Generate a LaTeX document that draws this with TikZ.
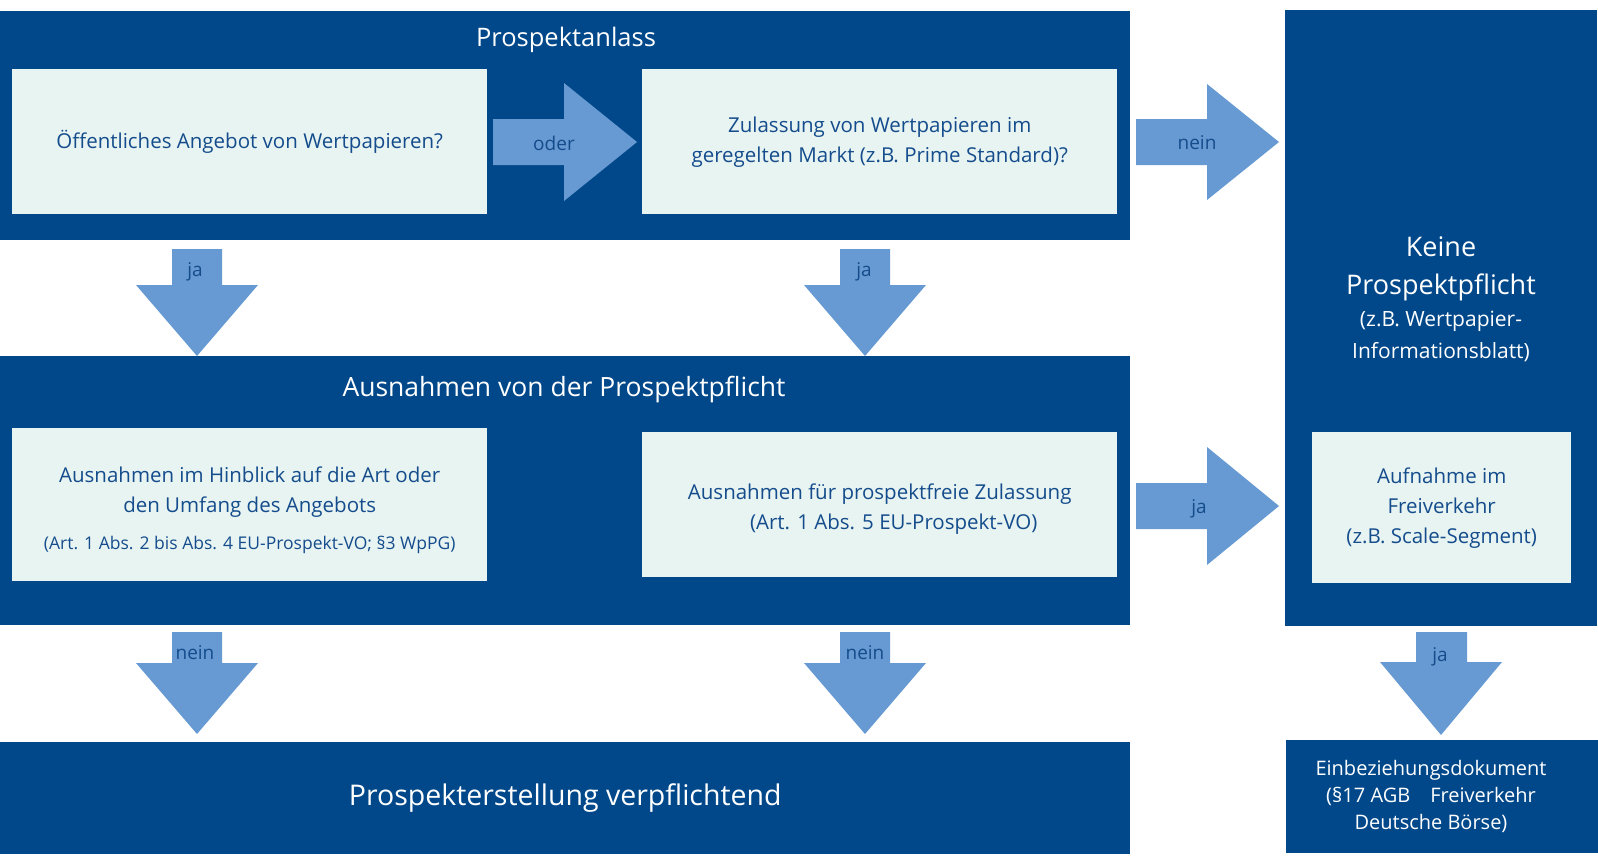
\documentclass[tikz,border=0pt]{standalone}
\usepackage{fontspec}
\setmainfont{Open Sans}
\definecolor{panelblue}{RGB}{0,72,138}
\definecolor{boxfill}{RGB}{232,244,242}
\definecolor{arrowblue}{RGB}{103,154,210}
\definecolor{textblue}{RGB}{20,76,140}

\begin{document}
\begin{tikzpicture}[x=1pt,y=-1pt,
    panel/.style={fill=panelblue,inner sep=0pt,anchor=north west,text=white,align=center},
    lightbox/.style={fill=boxfill,inner sep=0pt,anchor=north west,text=textblue,align=center,font=\fontsize{20.5}{30}\selectfont},
    boxtext/.style={text=textblue,align=center,font=\fontsize{20.5}{30}\selectfont},
    paneltitle/.style={text=white,font=\fontsize{25.5}{30}\selectfont},
    arrowfill/.style={fill=arrowblue},
    arrowlabel/.style={text=textblue,font=\fontsize{19}{23}\selectfont}]
\useasboundingbox (0,0) rectangle (1598,862);

\node[panel,minimum width=1130,minimum height=229] (anlass) at (0,11) {};
\node[panel,minimum width=1130,minimum height=269] (ausnahmen) at (0,356) {};
\node[panel,minimum width=1130,minimum height=112,font=\fontsize{28.5}{34}\selectfont] (pflicht) at (0,742) {Prospekterstellung verpflichtend};
\node[panel,minimum width=312,minimum height=616] (keine) at (1285,10) {};
\node[panel,minimum width=312,minimum height=113] (einbez) at (1286,740) {};

\node[paneltitle] (anlasstitle) at (566,40) {Prospektanlass};
\node[paneltitle,font=\fontsize{26.5}{31}\selectfont] (ausnahmentitle) at (564,390) {Ausnahmen von der Prospektpflicht};

\node[lightbox,minimum width=475,minimum height=145] (angebot) at (12,69) {Öffentliches Angebot von Wertpapieren?};
\node[lightbox,minimum width=475,minimum height=145] (zulassung) at (642,69) {Zulassung von Wertpapieren im\\geregelten Markt (z.B. Prime Standard)?};
\node[lightbox,minimum width=475,minimum height=153] (hinblick) at (12,428) {};
\node[lightbox,minimum width=475,minimum height=145] (prospektfrei) at (642,432) {};
\node[lightbox,minimum width=259,minimum height=151] (aufnahme) at (1312,432) {Aufnahme im\\Freiverkehr\\(z.B. Scale-Segment)};

\node[boxtext] (hinblicktext) at ([yshift=-6pt]hinblick.center) {Ausnahmen im Hinblick auf die Art oder\\den Umfang des Angebots\\[7pt]{\fontsize{17.5}{20}\selectfont(Art. 1 Abs. 2 bis Abs. 4 EU-Prospekt-VO; §3 WpPG)}};
\node[boxtext] (prospektfreitext) at ([yshift=-4pt]prospektfrei.center) {Ausnahmen für prospektfreie Zulassung\\\hspace*{28pt}(Art. 1 Abs. 5 EU-Prospekt-VO)};

\node[text=white,align=center,font=\fontsize{21}{32}\selectfont] (keinetext) at (1441,299) {{\fontsize{27}{38}\selectfont Keine}\\[6pt]{\fontsize{27}{38}\selectfont Prospektpflicht}\\(z.B. Wertpapier-\\Informationsblatt)};
\node[text=white,align=center,font=\fontsize{20}{27}\selectfont] (einbeztext) at (1431,796) {Einbeziehungsdokument\\(§17 AGB\hspace{20pt}Freiverkehr\\Deutsche Börse)};

\fill[arrowfill] (493,119) -- (564,119) -- (564,83) -- (637,142) -- (564,201) -- (564,165) -- (493,165) -- cycle;
\fill[arrowfill] (1136,119) -- (1207,119) -- (1207,84) -- (1279,142) -- (1207,200) -- (1207,165) -- (1136,165) -- cycle;
\fill[arrowfill] (1136,483) -- (1207,483) -- (1207,447) -- (1279,506) -- (1207,565) -- (1207,529) -- (1136,529) -- cycle;
\fill[arrowfill] (172,249) -- (222,249) -- (222,285) -- (258,285) -- (197,356) -- (136,285) -- (172,285) -- cycle;
\fill[arrowfill] (840,249) -- (890,249) -- (890,285) -- (926,285) -- (865,356) -- (804,285) -- (840,285) -- cycle;
\fill[arrowfill] (172,632) -- (222,632) -- (222,663) -- (258,663) -- (197,734) -- (136,663) -- (172,663) -- cycle;
\fill[arrowfill] (840,632) -- (890,632) -- (890,663) -- (926,663) -- (865,734) -- (804,663) -- (840,663) -- cycle;
\fill[arrowfill] (1416,632) -- (1467,632) -- (1467,662) -- (1502,662) -- (1441,735) -- (1380,662) -- (1416,662) -- cycle;

\node[arrowlabel] (oder) at (554,143) {oder};
\node[arrowlabel] (neinright) at (1197,143) {nein};
\node[arrowlabel] (jaright) at (1199,509) {ja};
\node[arrowlabel] (jaleft) at (195,272) {ja};
\node[arrowlabel] (jamid) at (864,272) {ja};
\node[arrowlabel] (neinleft) at (195,653) {nein};
\node[arrowlabel] (neinmid) at (865,653) {nein};
\node[arrowlabel] (jalow) at (1440,657) {ja};
\end{tikzpicture}
\end{document}
